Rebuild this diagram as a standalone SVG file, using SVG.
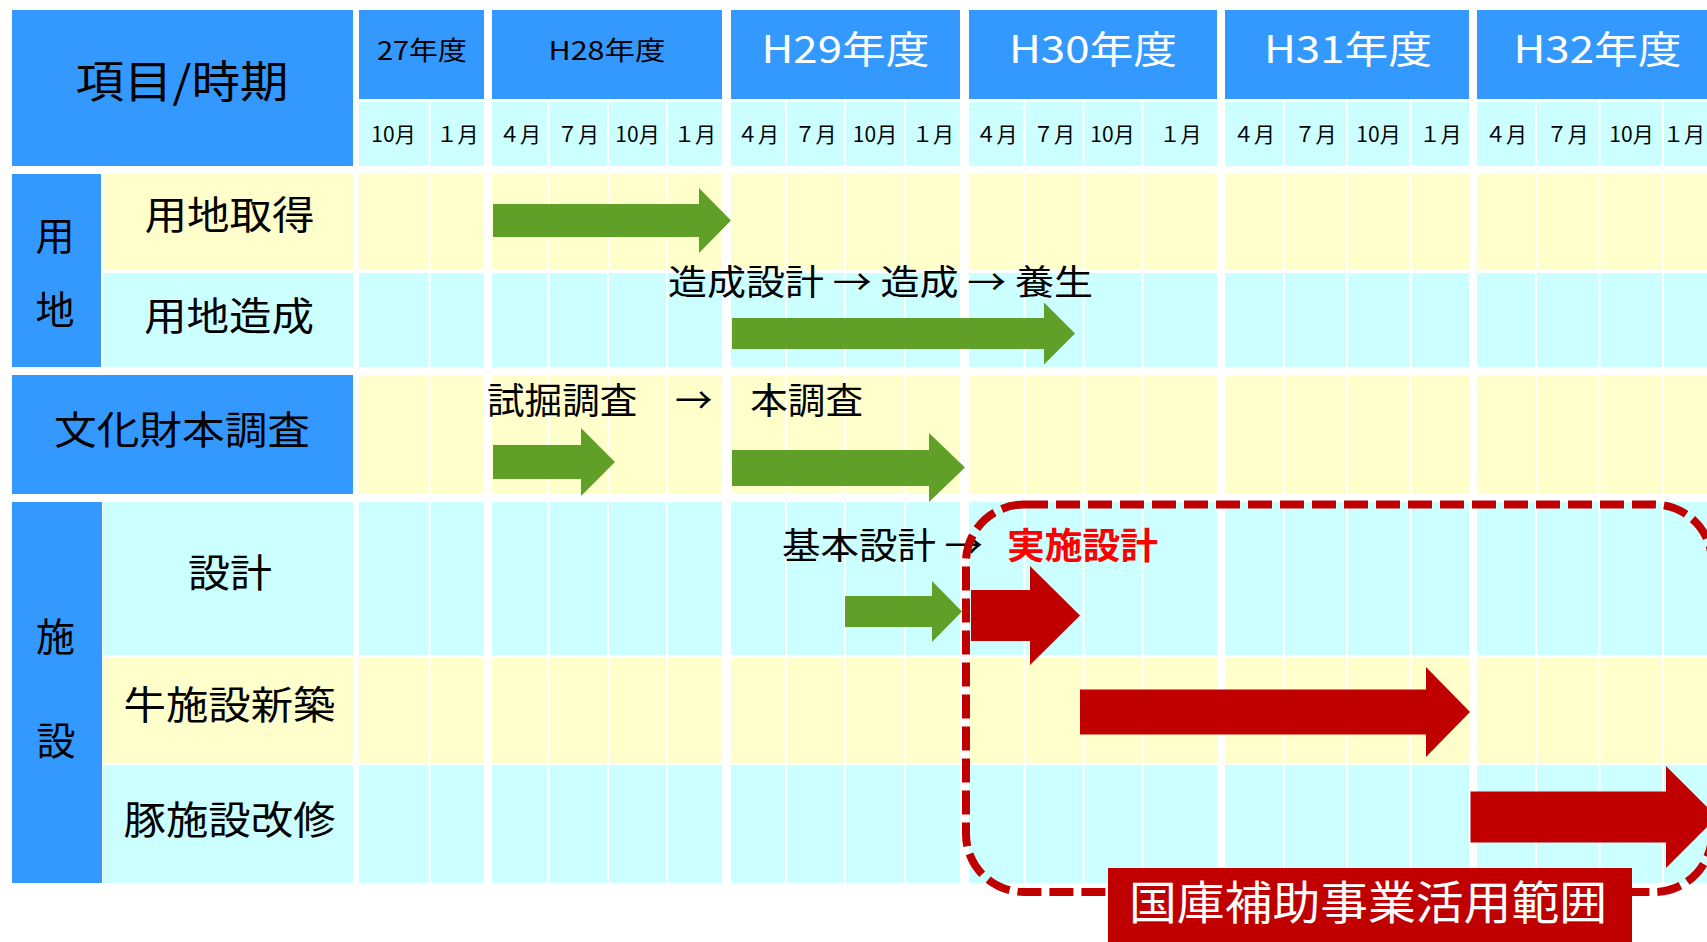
<svg xmlns="http://www.w3.org/2000/svg" width="1707" height="942" viewBox="0 0 1707 942">
<style>
.hd{fill:#3399FF}
.y{fill:#FFFFCC}
.c{fill:#CCFFFF}
.sep{stroke:#FFFFFF;stroke-width:2}
text{font-family:'Noto Sans CJK JP','Noto Sans',sans-serif;fill:#000000}
.mid{text-anchor:middle}
.w{fill:#FFFFFF}
.mo{font-size:21px;text-anchor:middle}
.lb{font-size:39px}
.ga{fill:#60A028}
.ra{fill:#C00000}
</style>
<rect width="1707" height="942" fill="#FFFFFF"/>
<g id="corner">
<rect class="hd" x="12" y="10" width="341" height="156"/>
<text class="mid" x="182" y="98" font-size="44" textLength="213" lengthAdjust="spacingAndGlyphs">項目/時期</text>
</g>
<g id="years">
<rect class="hd" x="359" y="10" width="125" height="89"/>
<rect class="hd" x="492" y="10" width="230" height="89"/>
<rect class="hd" x="731" y="10" width="229" height="89"/>
<rect class="hd" x="969" y="10" width="248" height="89"/>
<rect class="hd" x="1225" y="10" width="244" height="89"/>
<rect class="hd" x="1477" y="10" width="250" height="89"/>
<text class="mid" x="422" y="60" font-size="26" textLength="90" lengthAdjust="spacingAndGlyphs">27年度</text>
<text class="mid" x="607" y="60" font-size="26" textLength="117" lengthAdjust="spacingAndGlyphs">H28年度</text>
<text class="mid w" x="845.5" y="63" font-size="38" textLength="168" lengthAdjust="spacingAndGlyphs">H29年度</text>
<text class="mid w" x="1093" y="63" font-size="38" textLength="168" lengthAdjust="spacingAndGlyphs">H30年度</text>
<text class="mid w" x="1348" y="63" font-size="38" textLength="168" lengthAdjust="spacingAndGlyphs">H31年度</text>
<text class="mid w" x="1597.5" y="63" font-size="38" textLength="168" lengthAdjust="spacingAndGlyphs">H32年度</text>
</g>
<g id="grid">
<g class="c">
<rect x="359" y="102" width="125" height="64"/><rect x="492" y="102" width="230" height="64"/><rect x="731" y="102" width="229" height="64"/><rect x="969" y="102" width="248" height="64"/><rect x="1225" y="102" width="244" height="64"/><rect x="1477" y="102" width="250" height="64"/>
<rect x="359" y="273" width="125" height="94"/><rect x="492" y="273" width="230" height="94"/><rect x="731" y="273" width="229" height="94"/><rect x="969" y="273" width="248" height="94"/><rect x="1225" y="273" width="244" height="94"/><rect x="1477" y="273" width="250" height="94"/>
<rect x="359" y="502" width="125" height="153"/><rect x="492" y="502" width="230" height="153"/><rect x="731" y="502" width="229" height="153"/><rect x="969" y="502" width="248" height="153"/><rect x="1225" y="502" width="244" height="153"/><rect x="1477" y="502" width="250" height="153"/>
<rect x="359" y="765" width="125" height="118"/><rect x="492" y="765" width="230" height="118"/><rect x="731" y="765" width="229" height="118"/><rect x="969" y="765" width="248" height="118"/><rect x="1225" y="765" width="244" height="118"/><rect x="1477" y="765" width="250" height="118"/>
</g>
<g class="y">
<rect x="359" y="174" width="125" height="96"/><rect x="492" y="174" width="230" height="96"/><rect x="731" y="174" width="229" height="96"/><rect x="969" y="174" width="248" height="96"/><rect x="1225" y="174" width="244" height="96"/><rect x="1477" y="174" width="250" height="96"/>
<rect x="359" y="375" width="125" height="119"/><rect x="492" y="375" width="230" height="119"/><rect x="731" y="375" width="229" height="119"/><rect x="969" y="375" width="248" height="119"/><rect x="1225" y="375" width="244" height="119"/><rect x="1477" y="375" width="250" height="119"/>
<rect x="359" y="658" width="125" height="105"/><rect x="492" y="658" width="230" height="105"/><rect x="731" y="658" width="229" height="105"/><rect x="969" y="658" width="248" height="105"/><rect x="1225" y="658" width="244" height="105"/><rect x="1477" y="658" width="250" height="105"/>
</g>
<path class="sep" d="M429.5 102V883M548.5 102V883M608 102V883M667 102V883M786 102V883M845 102V883M905 102V883M1024.5 102V883M1083.5 102V883M1142.5 102V883M1284 102V883M1347 102V883M1410.5 102V883M1536 102V883M1599.5 102V883M1663 102V883"/>
</g>
<g id="months">
<text class="mo" x="393.5" y="141.5">10月</text><text class="mo" x="457.5" y="141.5">１月</text>
<text class="mo" x="520" y="141.5">４月</text><text class="mo" x="578" y="141.5">７月</text><text class="mo" x="637.5" y="141.5">10月</text><text class="mo" x="695" y="141.5">１月</text>
<text class="mo" x="758" y="141.5">４月</text><text class="mo" x="815.5" y="141.5">７月</text><text class="mo" x="875" y="141.5">10月</text><text class="mo" x="933" y="141.5">１月</text>
<text class="mo" x="996.5" y="141.5">４月</text><text class="mo" x="1054" y="141.5">７月</text><text class="mo" x="1112.5" y="141.5">10月</text><text class="mo" x="1180.5" y="141.5">１月</text>
<text class="mo" x="1254" y="141.5">４月</text><text class="mo" x="1315.5" y="141.5">７月</text><text class="mo" x="1378.5" y="141.5">10月</text><text class="mo" x="1440.5" y="141.5">１月</text>
<text class="mo" x="1506" y="141.5">４月</text><text class="mo" x="1567.5" y="141.5">７月</text><text class="mo" x="1631.5" y="141.5">10月</text><text class="mo" x="1684" y="141.5">１月</text>
</g>
<g id="group-yochi">
<rect class="hd" x="12" y="174" width="89" height="193"/>
<text class="lb mid" x="55" y="250">用</text>
<text class="lb mid" x="55" y="324">地</text>
</g>
<g id="row-yochi-shutoku">
<rect class="y" x="103" y="174" width="250" height="96"/>
<text class="lb mid" x="229.5" y="229" textLength="170" lengthAdjust="spacingAndGlyphs">用地取得</text>
</g>
<g id="row-yochi-zosei">
<rect class="c" x="103" y="273" width="250" height="94"/>
<text class="lb mid" x="229" y="330" textLength="170" lengthAdjust="spacingAndGlyphs">用地造成</text>
</g>
<g id="row-bunkazai">
<rect class="hd" x="12" y="375" width="341" height="119"/>
<text class="lb mid" x="182" y="444" textLength="256" lengthAdjust="spacingAndGlyphs">文化財本調査</text>
</g>
<g id="group-shisetsu">
<rect class="hd" x="12" y="502" width="90" height="381"/>
<text class="lb mid" x="55.5" y="651">施</text>
<text class="lb mid" x="56" y="755">設</text>
</g>
<g id="row-sekkei">
<rect class="c" x="103" y="502" width="250" height="153"/>
<text class="lb mid" x="230" y="587" textLength="84" lengthAdjust="spacingAndGlyphs">設計</text>
</g>
<g id="row-ushi">
<rect class="y" x="103" y="658" width="250" height="105"/>
<text class="lb mid" x="229.5" y="719" textLength="212" lengthAdjust="spacingAndGlyphs">牛施設新築</text>
</g>
<g id="row-buta">
<rect class="c" x="103" y="765" width="250" height="118"/>
<text class="lb mid" x="229.5" y="834" textLength="212" lengthAdjust="spacingAndGlyphs">豚施設改修</text>
</g>
<g id="connectors">
<polygon class="ga" points="493,204 699,204 699,188 731,220.5 699,253 699,237 493,237"/>
<polygon class="ga" points="732,318 1044,318 1044,302.5 1075,333.5 1044,364.5 1044,349 732,349"/>
<polygon class="ga" points="493,445 581,445 581,428 615,462 581,496 581,479 493,479"/>
<polygon class="ga" points="732,450 929,450 929,433 965,467.5 929,502 929,486 732,486"/>
<polygon class="ga" points="845,596 932,596 932,581 962,611.5 932,642 932,627 845,627"/>
<polygon class="ra" points="971,590 1030,590 1030,566 1080,615.5 1030,665 1030,641 971,641"/>
<polygon class="ra" points="1080,689.5 1426,689.5 1426,667 1470,712 1426,757 1426,734.5 1080,734.5"/>
<polygon class="ra" points="1470.5,791.5 1666,791.5 1666,766 1717,817 1666,868 1666,842.5 1470.5,842.5"/>
</g>
<g id="phase-labels">
<text x="668" y="295" font-size="35" textLength="425" lengthAdjust="spacingAndGlyphs">造成設計 → 造成 → 養生</text>
<text x="487" y="414" font-size="36" textLength="376" lengthAdjust="spacingAndGlyphs">試掘調査　→　本調査</text>
<text x="782" y="559" font-size="36" textLength="201" lengthAdjust="spacingAndGlyphs">基本設計 →</text>
<text x="1007" y="559" font-size="36" font-weight="bold" textLength="151" lengthAdjust="spacingAndGlyphs" style="fill:#FF0000">実施設計</text>
</g>
<g id="subsidy-range">
<rect x="966" y="504.5" width="746" height="387.5" rx="58" ry="58" fill="none" stroke="#C00000" stroke-width="8" stroke-dasharray="24 8"/>
<rect class="ra" x="1108" y="868" width="524" height="80"/>
<text class="mid w" x="1368" y="919" font-size="46" textLength="478" lengthAdjust="spacingAndGlyphs">国庫補助事業活用範囲</text>
</g>
</svg>
